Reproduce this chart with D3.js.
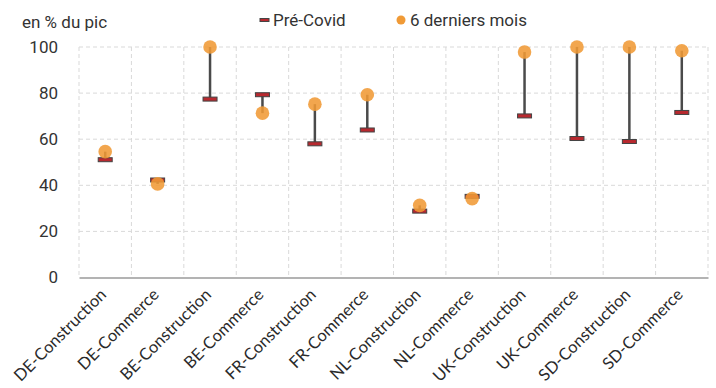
<!DOCTYPE html>
<html><head><meta charset="utf-8">
<script src="https://cdn.jsdelivr.net/npm/d3@7"></script>
<style>body{margin:0;background:#fff}svg{display:block}</style>
</head><body><svg id="c" width="716" height="388"></svg>
<script>
const categories = ["DE-Construction","DE-Commerce","BE-Construction","BE-Commerce","FR-Construction","FR-Commerce","NL-Construction","NL-Commerce","UK-Construction","UK-Commerce","SD-Construction","SD-Commerce"];
const preCovid = [51.1, 42.3, 77.4, 79.3, 58.0, 64.0, 28.8, 35.2, 70.1, 60.3, 59.0, 71.6];
const last6m   = [54.6, 40.6, 100, 71.3, 75.2, 79.3, 31.3, 34.2, 97.8, 100, 100, 98.4];
const yTicks = [0, 20, 40, 60, 80, 100];
const seriesNames = ["Pré-Covid", "6 derniers mois"];
const yTitle = "en % du pic";

const svg = d3.select("#c");
const m = {l:79, r:8, t:47, b:110};
const W = 716, H = 388;
const x = d3.scaleBand().domain(categories).range([m.l, W - m.r]);
const y = d3.scaleLinear().domain([0, 100]).range([277.5, 47]);
const fontMain = "Roboto, 'Noto Sans', sans-serif";
const fontCat = "Lato, 'Open Sans', sans-serif";

// grid
const g = svg.append("g");
g.selectAll("line.h").data(yTicks.filter(d => d > 0)).join("line")
  .attr("x1", m.l).attr("x2", W - m.r).attr("y1", d => y(d)).attr("y2", d => y(d))
  .attr("stroke", "#d9d9d9").attr("stroke-dasharray", "4,3").attr("stroke-width", 1);
const bounds = categories.map(c => x(c)).concat([x.range()[1]]);
g.selectAll("line.v").data(bounds).join("line")
  .attr("x1", d => d).attr("x2", d => d).attr("y1", y(100)).attr("y2", y(0))
  .attr("stroke", "#d9d9d9").attr("stroke-dasharray", "4,3").attr("stroke-width", 1);

// y axis
const yAxis = svg.append("g").attr("transform", `translate(${m.l},0)`)
  .call(d3.axisLeft(y).tickValues(yTicks).tickSize(0).tickPadding(21));
yAxis.select(".domain").remove();
yAxis.selectAll("text").attr("font-family", fontMain).attr("font-size", 17).attr("fill", "#333");

// x axis
const xAxis = svg.append("g").attr("transform", `translate(0,${y(0)})`)
  .call(d3.axisBottom(x).tickSize(0).tickSizeOuter(0));
xAxis.select(".domain").attr("stroke", "#b3b3b3").attr("stroke-width", 2);
xAxis.selectAll("text")
  .attr("font-family", fontCat).attr("font-size", 16.5).attr("fill", "#2a2a2a")
  .attr("text-anchor", "end")
  .attr("transform", "translate(-6,10) rotate(-45)")
  .attr("dy", "0.7em").attr("y", 0);

// stems
const idx = d3.range(categories.length);
const cx = i => x(categories[i]) + x.bandwidth() / 2;
svg.append("g").selectAll("line").data(idx).join("line")
  .attr("x1", cx).attr("x2", cx)
  .attr("y1", i => y(preCovid[i])).attr("y2", i => y(last6m[i]))
  .attr("stroke", "#4a4a4a").attr("stroke-width", 2.5);

// pre-covid markers
svg.append("g").selectAll("rect").data(idx).join("rect")
  .attr("x", i => cx(i) - 7).attr("y", i => y(preCovid[i]) - 2)
  .attr("width", 14).attr("height", 4)
  .attr("fill", "#b8292f").attr("stroke", "#444").attr("stroke-width", 1);

// last 6m circles
svg.append("g").selectAll("circle").data(idx).join("circle")
  .attr("cx", cx).attr("cy", i => y(last6m[i])).attr("r", 6.8)
  .attr("fill", "#f09a36").attr("fill-opacity", 0.88);

// title
svg.append("text").attr("x", 22).attr("y", 28).text(yTitle)
  .attr("font-family", fontMain).attr("font-size", 17).attr("fill", "#333");

// legend
const lg = svg.append("g");
lg.append("rect").attr("x", 260).attr("y", 18.5).attr("width", 9).attr("height", 3)
  .attr("fill", "#b8292f").attr("stroke", "#444").attr("stroke-width", 1);
lg.append("text").attr("x", 273).attr("y", 26).text(seriesNames[0])
  .attr("font-family", fontMain).attr("font-size", 17).attr("fill", "#333");
lg.append("circle").attr("cx", 401).attr("cy", 20).attr("r", 4.5).attr("fill", "#f09a36");
lg.append("text").attr("x", 410).attr("y", 26).text(seriesNames[1])
  .attr("font-family", fontMain).attr("font-size", 17).attr("fill", "#333");
</script></body></html>
